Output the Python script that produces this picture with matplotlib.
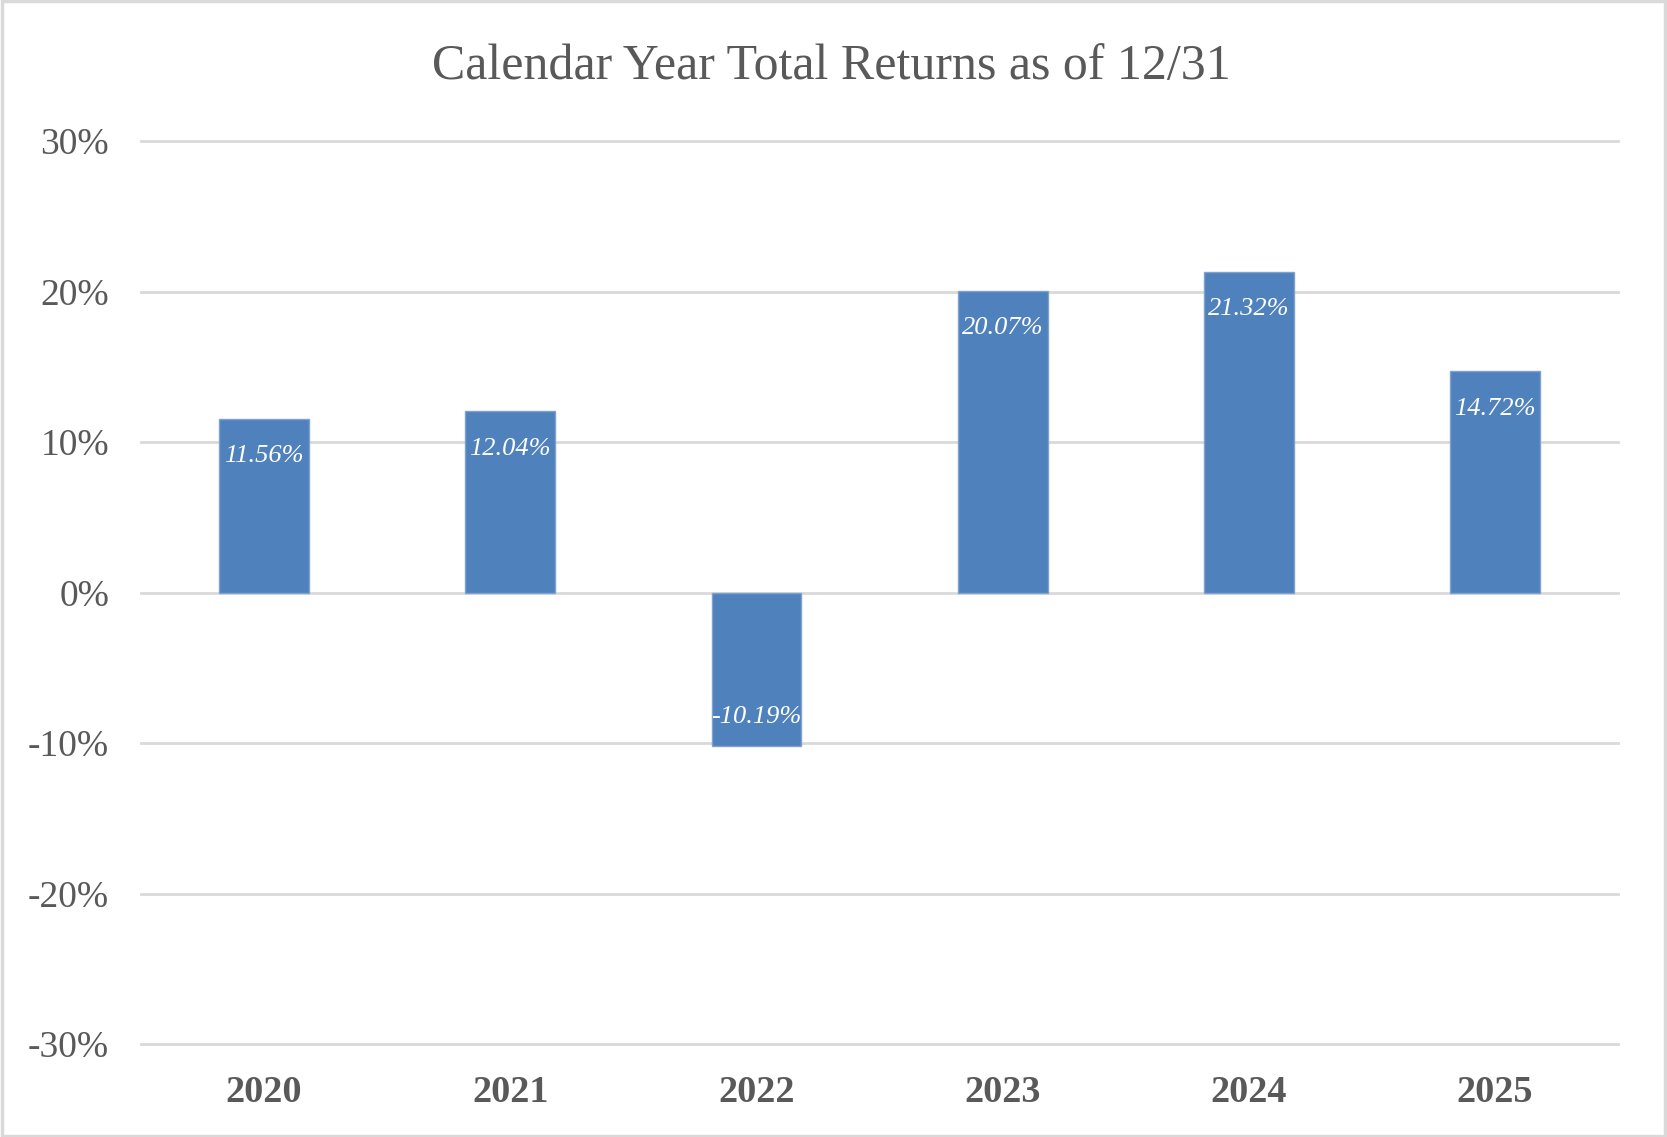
import numpy as np
import matplotlib
matplotlib.use("Agg")
from matplotlib import pyplot as plt
from matplotlib.patches import Rectangle

years = ['2020', '2021', '2022', '2023', '2024', '2025']
returns = [11.56, 12.04, -10.19, 20.07, 21.32, 14.72]
yticks = [-30, -20, -10, 0, 10, 20, 30]

plt.rcParams['font.family'] = ['Liberation Serif', 'DejaVu Serif']

text_color = '#595959'
bar_color = '#4F81BD'
grid_color = '#D9D9D9'

fig = plt.figure(figsize=(16.67, 11.37), dpi=100)
ax = fig.add_axes([0.0846, 0.0818, 0.886, 0.794])

x = np.arange(len(years))
bars = ax.bar(x, returns, width=0.365, color=bar_color, edgecolor='#7FA2CF',
              linewidth=1, zorder=3)

# value labels just inside the end of each bar
for b, v in zip(bars, returns):
    off = -27 if v >= 0 else 21
    ax.annotate(f'{v:.2f}%', (b.get_x() + b.get_width() / 2, v),
                xytext=(0, off), textcoords='offset points',
                ha='center', va='center', color='white',
                fontsize=19, style='italic', zorder=4)

ax.set_xlim(-0.5, len(years) - 0.5)
ax.set_ylim(-30, 30)
ax.set_yticks(yticks)
ax.set_yticklabels([f'{t}%' for t in yticks])
ax.set_xticks(x)
ax.set_xticklabels(years, fontweight='bold')
ax.tick_params(axis='y', length=0, pad=23, labelsize=27, labelcolor=text_color)
ax.tick_params(axis='x', length=0, pad=22, labelsize=27.5, labelcolor=text_color)
ax.yaxis.grid(True, color=grid_color, linewidth=2, zorder=0)
ax.set_axisbelow(True)
for line in ax.get_ygridlines():
    line.set_clip_on(False)
for s in ax.spines.values():
    s.set_visible(False)

fig.text(0.499, 0.941, 'Calendar Year Total Returns as of 12/31',
         ha='center', va='center', fontsize=36, color=text_color)

fig.patches.append(Rectangle((0.001, 0.001), 0.998, 0.998, transform=fig.transFigure,
                             fill=False, edgecolor=grid_color, linewidth=2.5))

fig.savefig('out.png', dpi=100)
